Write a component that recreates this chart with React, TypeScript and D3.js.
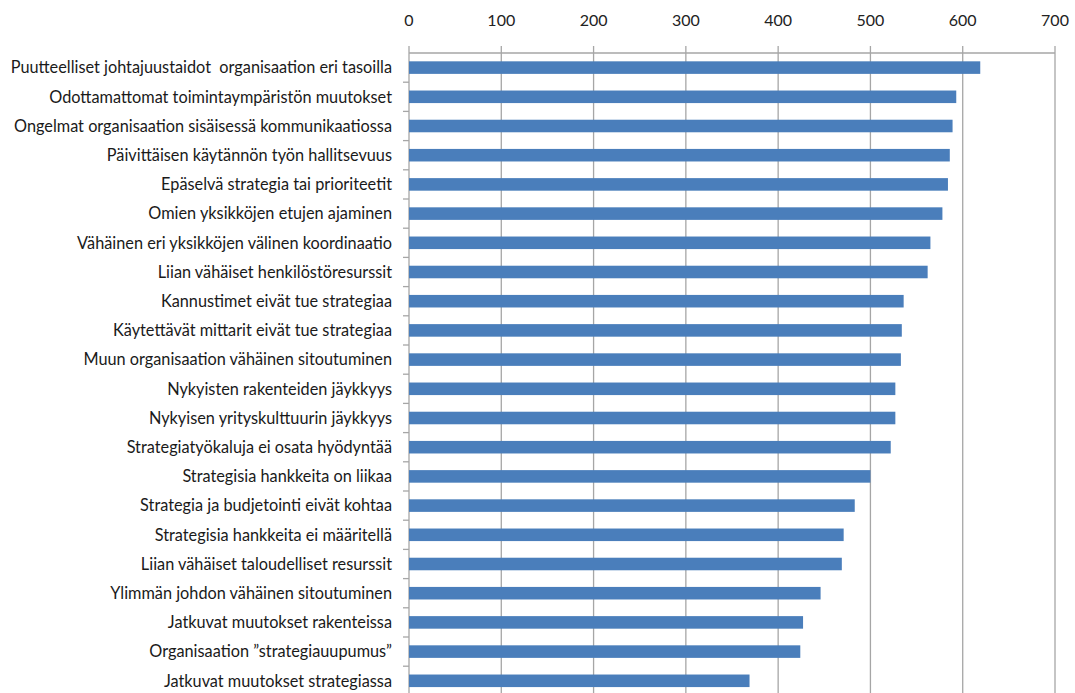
import React from "react";
import * as d3 from "d3";

const categories = [
  "Puutteelliset johtajuustaidot  organisaation eri tasoilla",
  "Odottamattomat toimintaympäristön muutokset",
  "Ongelmat organisaation sisäisessä kommunikaatiossa",
  "Päivittäisen käytännön työn hallitsevuus",
  "Epäselvä strategia tai prioriteetit",
  "Omien yksikköjen etujen ajaminen",
  "Vähäinen eri yksikköjen välinen koordinaatio",
  "Liian vähäiset henkilöstöresurssit",
  "Kannustimet eivät tue strategiaa",
  "Käytettävät mittarit eivät tue strategiaa",
  "Muun organisaation vähäinen sitoutuminen",
  "Nykyisten rakenteiden jäykkyys",
  "Nykyisen yrityskulttuurin jäykkyys",
  "Strategiatyökaluja ei osata hyödyntää",
  "Strategisia hankkeita on liikaa",
  "Strategia ja budjetointi eivät kohtaa",
  "Strategisia hankkeita ei määritellä",
  "Liian vähäiset taloudelliset resurssit",
  "Ylimmän johdon vähäinen sitoutuminen",
  "Jatkuvat muutokset rakenteissa",
  "Organisaation ”strategiauupumus”",
  "Jatkuvat muutokset strategiassa",
];

const values = [
  619, 593, 589, 586, 584, 578, 565, 562, 536, 534, 533, 527, 527, 522, 500,
  483, 471, 469, 446, 427, 424, 369,
];

const xTicks = [0, 100, 200, 300, 400, 500, 600, 700];

const W = 1075;
const H = 693;
const left = 409;
const right = 1055;
const top = 53;
const band = 29.2;

export default function App() {
  const x = d3.scaleLinear().domain([0, 700]).range([left, right]);
  const y = d3
    .scaleBand<string>()
    .domain(categories)
    .range([top, top + band * categories.length])
    .paddingInner(0.57)
    .paddingOuter(0.285);
  const bottom = top + band * categories.length;
  const font = "Lato, 'Open Sans', sans-serif";
  const grid = "#a6a6a6";

  return (
    <svg
      width={W}
      height={H}
      style={{ position: "absolute", left: 0, top: 0, background: "#fff" }}
    >
      {xTicks.map((t) => (
        <g key={t}>
          <line x1={x(t)} x2={x(t)} y1={top - 7} y2={bottom} stroke={grid} strokeWidth={1.3} />
          <text
            x={x(t)}
            y={26}
            textAnchor="middle"
            fontFamily={font}
            fontSize={16}
            fill="#222"
          >
            {t}
          </text>
        </g>
      ))}
      <line x1={left} x2={right} y1={top} y2={top} stroke={grid} strokeWidth={1.3} />
      {categories.map((c, i) => (
        <line
          key={"t" + i}
          x1={left - 6}
          x2={left}
          y1={top + band * (i + 1)}
          y2={top + band * (i + 1)}
          stroke={grid}
          strokeWidth={1.3}
        />
      ))}
      {categories.map((c, i) => (
        <rect
          key={"b" + i}
          x={x(0)}
          y={y(c)!}
          width={x(values[i]) - x(0)}
          height={y.bandwidth()}
          fill="#4a7ebb"
        />
      ))}
      {categories.map((c, i) => (
        <text
          key={"l" + i}
          x={392}
          y={y(c)! + y.bandwidth() / 2}
          dy="0.35em"
          textAnchor="end"
          fontFamily={font}
          fontSize={16.3}
          fill="#1a1a1a"
          style={{ whiteSpace: "pre" }}
        >
          {c}
        </text>
      ))}
    </svg>
  );
}
